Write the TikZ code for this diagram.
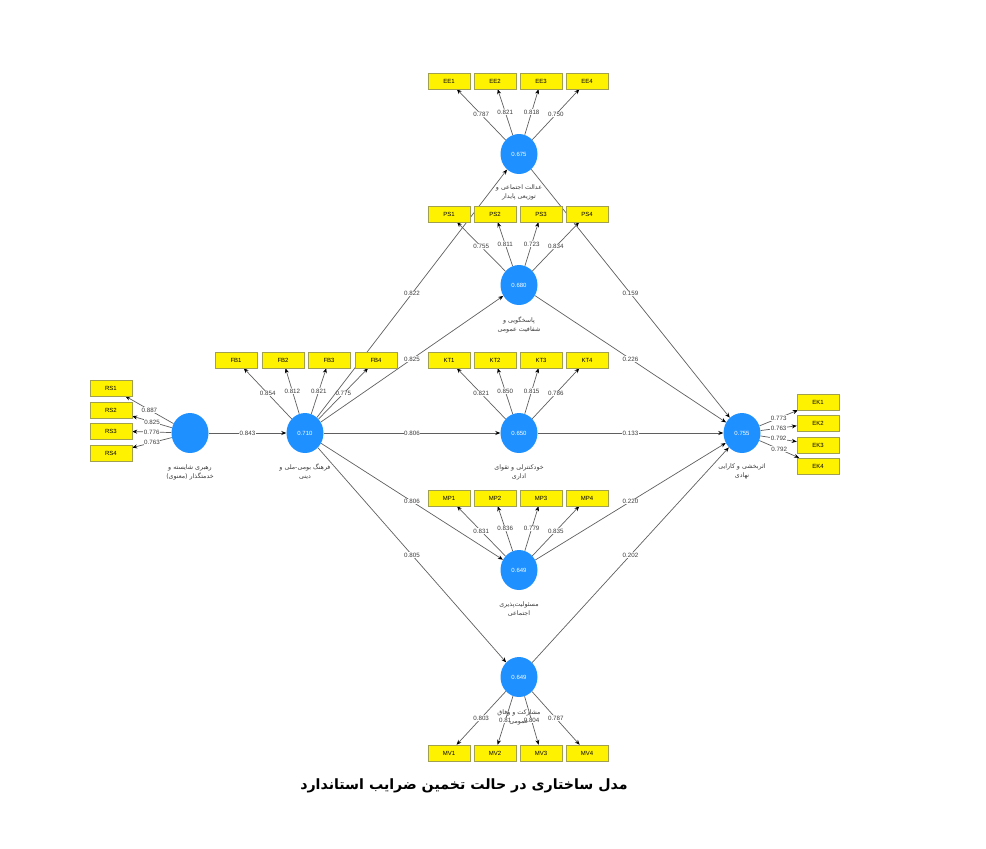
\documentclass[tikz,border=0pt]{standalone}
\usepackage{fontspec}
\usetikzlibrary{shapes.geometric,arrows.meta}
\TeXXeTstate=1
\newfontfamily\numf{Liberation Sans}
\newfontfamily\fa[Script=Arabic]{DejaVu Sans}
\definecolor{lvblue}{RGB}{30,144,255}
\definecolor{edgegray}{RGB}{95,95,95}
\definecolor{numgray}{RGB}{60,60,60}
\definecolor{boxedge}{RGB}{160,160,80}
\pgfdeclarelayer{bg}
\pgfsetlayers{bg,main}
\begin{document}
\begin{tikzpicture}[x=1pt,y=-1pt,
 lv/.style={ellipse,fill=lvblue,minimum width=37pt,minimum height=40pt,inner sep=0pt,text=white,font=\numf\fontsize{6}{7}\selectfont},
 ind/.style={rectangle,fill=yellow,draw=boxedge,line width=0.4pt,minimum width=42pt,minimum height=16pt,inner sep=0pt,font=\numf\fontsize{6}{7}\selectfont},
 con/.style={draw=edgegray,line width=0.7pt,-{Stealth[length=5pt,width=4pt,color=black]}},
 w/.style={fill=white,inner sep=0.5pt,text=numgray,font=\numf\fontsize{6.2}{7}\selectfont},
 fl/.style={align=center,text=numgray,font=\fa\fontsize{6.3}{9}\selectfont,inner sep=0pt}
]
\useasboundingbox (0,0) rectangle (986,849);
% latent variables
\node[lv] (RS) at (190,433) {};
\node[lv] (FB) at (305,433) {0.710};
\node[lv] (EE) at (519,154) {0.675};
\node[lv] (PS) at (519,285) {0.680};
\node[lv] (KT) at (519,433) {0.650};
\node[lv] (MP) at (519,570) {0.649};
\node[lv] (MV) at (519,677) {0.649};
\node[lv] (EK) at (742,433) {0.755};
% indicators
\foreach \i/\y in {1/388,2/410,3/431,4/453} \node[ind] (RS\i) at (111,\y) {RS\i};
\foreach \i/\y in {1/402,2/423,3/445,4/466} \node[ind] (EK\i) at (818,\y) {EK\i};
\foreach \i/\x in {1/236,2/283,3/329,4/376} \node[ind] (FB\i) at (\x,360) {FB\i};
\foreach \i/\x in {1/449,2/495,3/541,4/587} {
  \node[ind] (EE\i) at (\x,81) {EE\i};
  \node[ind] (PS\i) at (\x,214) {PS\i};
  \node[ind] (KT\i) at (\x,360) {KT\i};
  \node[ind] (MP\i) at (\x,498) {MP\i};
  \node[ind] (MV\i) at (\x,753) {MV\i};
}
% edges
\begin{pgfonlayer}{bg}
\foreach \i/\v in {1/0.887,2/0.825,3/0.776,4/0.763} \draw[con] (RS) -- node[w] (lRS\i) {\v} (RS\i);
\foreach \i/\v in {1/0.773,2/0.763,3/0.792,4/0.792} \draw[con] (EK) -- node[w] (lEK\i) {\v} (EK\i);
\foreach \i/\v in {1/0.854,2/0.812,3/0.821,4/0.775} \draw[con] (FB) -- node[w] (lFB\i) {\v} (FB\i);
\foreach \i/\v in {1/0.787,2/0.821,3/0.818,4/0.750} \draw[con] (EE) -- node[w] (lEE\i) {\v} (EE\i);
\foreach \i/\v in {1/0.755,2/0.811,3/0.723,4/0.834} \draw[con] (PS) -- node[w] (lPS\i) {\v} (PS\i);
\foreach \i/\v in {1/0.821,2/0.850,3/0.815,4/0.786} \draw[con] (KT) -- node[w] (lKT\i) {\v} (KT\i);
\foreach \i/\v in {1/0.831,2/0.836,3/0.779,4/0.835} \draw[con] (MP) -- node[w] (lMP\i) {\v} (MP\i);
\foreach \i/\v in {1/0.803,2/0.81,3/0.804,4/0.787} \draw[con] (MV) -- node[w] (lMV\i) {\v} (MV\i);
\draw[con] (RS) -- node[w] (p1) {0.843} (FB);
\draw[con] (FB) -- node[w] (p2) {0.822} (EE);
\draw[con] (FB) -- node[w] (p3) {0.825} (PS);
\draw[con] (FB) -- node[w] (p4) {0.806} (KT);
\draw[con] (FB) -- node[w] (p5) {0.806} (MP);
\draw[con] (FB) -- node[w] (p6) {0.805} (MV);
\draw[con] (EE) -- node[w] (p7) {0.159} (EK);
\draw[con] (PS) -- node[w] (p8) {0.226} (EK);
\draw[con] (KT) -- node[w] (p9) {0.133} (EK);
\draw[con] (MP) -- node[w] (p10) {0.220} (EK);
\draw[con] (MV) -- node[w] (p11) {0.202} (EK);
\end{pgfonlayer}
% construct names
\node[fl] (tRS) at (190,472) {\beginR رهبری شایسته و\endR\\\beginR خدمتگذار (معنوی)\endR};
\node[fl] (tFB) at (305,472) {\beginR فرهنگ بومی-ملی و\endR\\\beginR دینی\endR};
\node[fl] (tEE) at (519,192) {\beginR عدالت اجتماعی و\endR\\\beginR توزیعی پایدار\endR};
\node[fl] (tPS) at (519,325) {\beginR پاسخگویی و\endR\\\beginR شفافیت عمومی\endR};
\node[fl] (tKT) at (519,472) {\beginR خودکنترلی و تقوای\endR\\\beginR اداری\endR};
\node[fl] (tMP) at (519,609) {\beginR مسئولیت‌پذیری\endR\\\beginR اجتماعی\endR};
\node[fl] (tMV) at (519,717) {\beginR مشارکت و وفاق\endR\\\beginR عمومی\endR};
\node[fl] (tEK) at (742,471) {\beginR اثربخشی و کارایی\endR\\\beginR نهادی\endR};
% caption
\node[font=\fa\bfseries\fontsize{14.2}{17}\selectfont,inner sep=0pt] (cap) at (464,786) {\beginR مدل ساختاری در حالت تخمین ضرایب استاندارد\endR};
\end{tikzpicture}
\end{document}
